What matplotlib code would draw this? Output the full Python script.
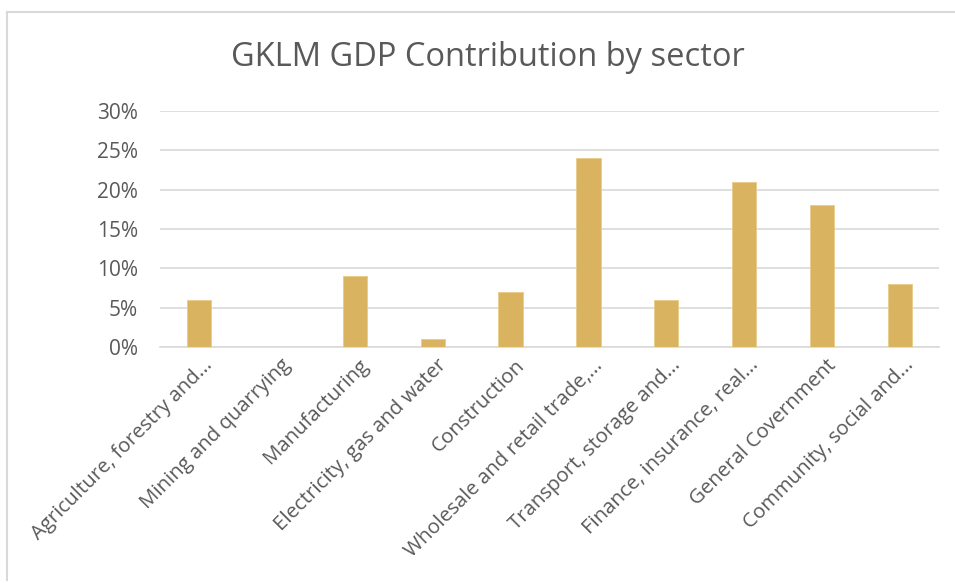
import matplotlib
matplotlib.use("Agg")
import matplotlib.pyplot as plt
from matplotlib.lines import Line2D
from matplotlib.ticker import FuncFormatter
from matplotlib.transforms import ScaledTranslation

sectors = [
    "Agriculture, forestry and...",
    "Mining and quarrying",
    "Manufacturing",
    "Electricity, gas and water",
    "Construction",
    "Wholesale and retail trade,...",
    "Transport, storage and...",
    "Finance, insurance, real...",
    "General Covernment",
    "Community, social and...",
]
shares = [0.06, 0.0, 0.09, 0.01, 0.07, 0.24, 0.06, 0.21, 0.18, 0.08]
y_ticks = [0.0, 0.05, 0.10, 0.15, 0.20, 0.25, 0.30]

bar_color = "#D9B35F"
text_color = "#595959"
grid_color = "#D9D9D9"

plt.rcParams["font.family"] = ["Open Sans", "DejaVu Sans"]

W, H = 955, 583
fig = plt.figure(figsize=(W / 100, H / 100), dpi=100)
fig.patch.set_facecolor("white")

# chart frame (top and left edges)
frame_kw = dict(transform=fig.transFigure, color="#D9D9D9", linewidth=1.5)
fig.lines.append(Line2D([7 / W, 1.0], [1 - 12 / H, 1 - 12 / H], **frame_kw))
fig.lines.append(Line2D([7 / W, 7 / W], [1 - 12 / H, 1 - 580 / H], **frame_kw))

ax = fig.add_axes([160 / W, 1 - 347 / H, (939 - 160) / W, (347 - 111) / H])
x = range(len(sectors))
ax.bar(x, shares, width=0.31, color=bar_color, edgecolor="#E8CB8A",
       linewidth=0.6, zorder=3)

ax.set_xlim(-0.5, len(sectors) - 0.5)
ax.set_ylim(0, 0.30)
ax.set_yticks(y_ticks)
ax.yaxis.set_major_formatter(FuncFormatter(lambda v, p: f"{round(v * 100)}%"))
ax.grid(axis="y", color=grid_color, linewidth=1.2, zorder=0)
for s in ["top", "right", "left"]:
    ax.spines[s].set_visible(False)
ax.spines["bottom"].set_color(grid_color)
ax.spines["bottom"].set_linewidth(1.2)
ax.tick_params(axis="both", length=0, colors=text_color)
ax.tick_params(axis="y", labelsize=15, pad=16)

ax.set_xticks(list(x))
ax.set_xticklabels(sectors, rotation=45, ha="right", va="top",
                   rotation_mode="anchor", fontsize=14.7, color=text_color)
ax.tick_params(axis="x", pad=6)
# nudge the slanted category labels slightly to the right
shift = ScaledTranslation(4 / 100, 0, fig.dpi_scale_trans)
for lbl in ax.get_xticklabels():
    lbl.set_transform(lbl.get_transform() + shift)

fig.text(0.5 * (232 + 744) / W, 1 - 57 / H, "GKLM GDP Contribution by sector",
         ha="center", va="center", fontsize=23.5, color=text_color)

fig.savefig("out.png", dpi=100, facecolor="white")
